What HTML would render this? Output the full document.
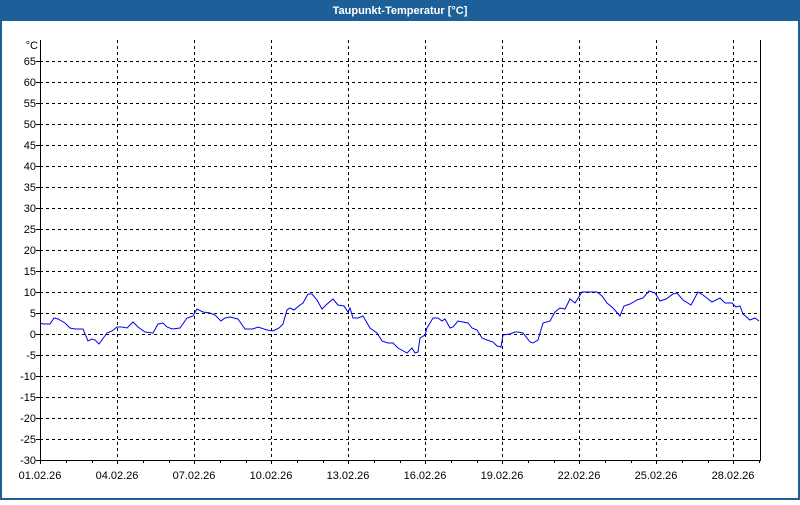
<!DOCTYPE html>
<html><head><style>
body{margin:0;width:800px;height:500px;overflow:hidden;background:#fff;font-family:"Liberation Sans",sans-serif}
</style></head><body>
<svg width="800" height="500" xmlns="http://www.w3.org/2000/svg" font-family="Liberation Sans, sans-serif">
<rect x="0" y="0" width="800" height="500" fill="#1d5f98"/>
<rect x="2" y="21" width="796" height="477" fill="#fff"/>
<text x="400" y="14" text-anchor="middle" fill="#fff" font-size="11" font-weight="bold">Taupunkt-Temperatur [°C]</text>
<g stroke="#000" stroke-width="1" stroke-dasharray="3,3" fill="none">
<path d="M40 61.5H760M40 82.5H760M40 103.5H760M40 124.5H760M40 145.5H760M40 166.5H760M40 187.5H760M40 208.5H760M40 229.5H760M40 250.5H760M40 271.5H760M40 292.5H760M40 313.5H760M40 334.5H760M40 355.5H760M40 376.5H760M40 397.5H760M40 418.5H760M40 439.5H760"/>
<path d="M117.5 40V460M194.5 40V460M271.5 40V460M348.5 40V460M425.5 40V460M502.5 40V460M579.5 40V460M656.5 40V460M733.5 40V460"/>
</g>
<g stroke="#000" stroke-width="1" fill="none">
<path d="M40.5 40V460.5H760.5V40"/>
<path d="M40.5 460v4M66.5 460v3M92.5 460v3M117.5 460v4M143.5 460v3M169.5 460v3M194.5 460v4M220.5 460v3M246.5 460v3M271.5 460v4M297.5 460v3M323.5 460v3M348.5 460v4M374.5 460v3M400.5 460v3M425.5 460v4M451.5 460v3M477.5 460v3M502.5 460v4M528.5 460v3M554.5 460v3M579.5 460v4M605.5 460v3M631.5 460v3M656.5 460v4M682.5 460v3M708.5 460v3M733.5 460v4M759.5 460v3"/>
<path d="M36 61.5h4M36 82.5h4M36 103.5h4M36 124.5h4M36 145.5h4M36 166.5h4M36 187.5h4M36 208.5h4M36 229.5h4M36 250.5h4M36 271.5h4M36 292.5h4M36 313.5h4M36 334.5h4M36 355.5h4M36 376.5h4M36 397.5h4M36 418.5h4M36 439.5h4M36 460.5h4"/>
</g>
<g font-size="11" fill="#000" text-anchor="end">
<text x="38" y="49">°C</text>
<text x="36" y="65">65</text><text x="36" y="86">60</text><text x="36" y="107">55</text><text x="36" y="128">50</text>
<text x="36" y="149">45</text><text x="36" y="170">40</text><text x="36" y="191">35</text><text x="36" y="212">30</text>
<text x="36" y="233">25</text><text x="36" y="254">20</text><text x="36" y="275">15</text><text x="36" y="296">10</text>
<text x="36" y="317">5</text><text x="36" y="338">0</text><text x="36" y="359">-5</text><text x="36" y="380">-10</text>
<text x="36" y="401">-15</text><text x="36" y="422">-20</text><text x="36" y="443">-25</text><text x="36" y="464">-30</text>
</g>
<g font-size="11" fill="#000" text-anchor="middle">
<text x="40" y="479">01.02.26</text><text x="117" y="479">04.02.26</text><text x="194" y="479">07.02.26</text>
<text x="271" y="479">10.02.26</text><text x="348" y="479">13.02.26</text><text x="425" y="479">16.02.26</text>
<text x="502" y="479">19.02.26</text><text x="579" y="479">22.02.26</text><text x="656" y="479">25.02.26</text>
<text x="733" y="479">28.02.26</text>
</g>
<polyline fill="none" stroke="#0000ee" stroke-width="1" points="40,323 43,324 50,324 54,318 58,319 65,323 70,328 75,329 83,329 88,341 92,339 95,340 99,344 107,333 112,331 117,327 122,327 127,328 133,322 138,327 145,332 153,333 158,324 163,323 167,327 172,329 180,328 187,318 193,316 197,309 203,312 210,313 215,315 221,321 225,318 230,317 238,319 245,329 253,329 258,327 267,330 273,331 279,328 283,324 287,310 290,308 294,310 300,305 303,303 308,294 312,294 317,300 322,309 326,305 333,299 338,305 344,306 348,312 350,308 353,318 358,318 363,316 370,328 377,333 382,341 388,343 393,343 398,348 407,353 412,348 415,353 418,352 420,338 425,335 427,328 433,318 438,318 442,321 445,319 450,328 453,327 458,321 463,322 468,323 472,328 477,330 482,338 487,340 493,342 497,346 501,347 503,335 510,334 515,332 518,332 523,333 530,342 533,343 538,340 543,323 550,321 555,312 560,308 565,309 570,299 575,303 582,292 590,292 597,292 602,296 607,303 613,308 620,316 624,306 630,304 637,300 643,298 649,291 655,293 660,301 666,299 673,294 677,293 683,300 691,305 698,292 703,295 712,302 720,298 725,303 732,303 736,307 740,306 743,314 750,320 755,318 759,321"/>
</svg>
</body></html>
